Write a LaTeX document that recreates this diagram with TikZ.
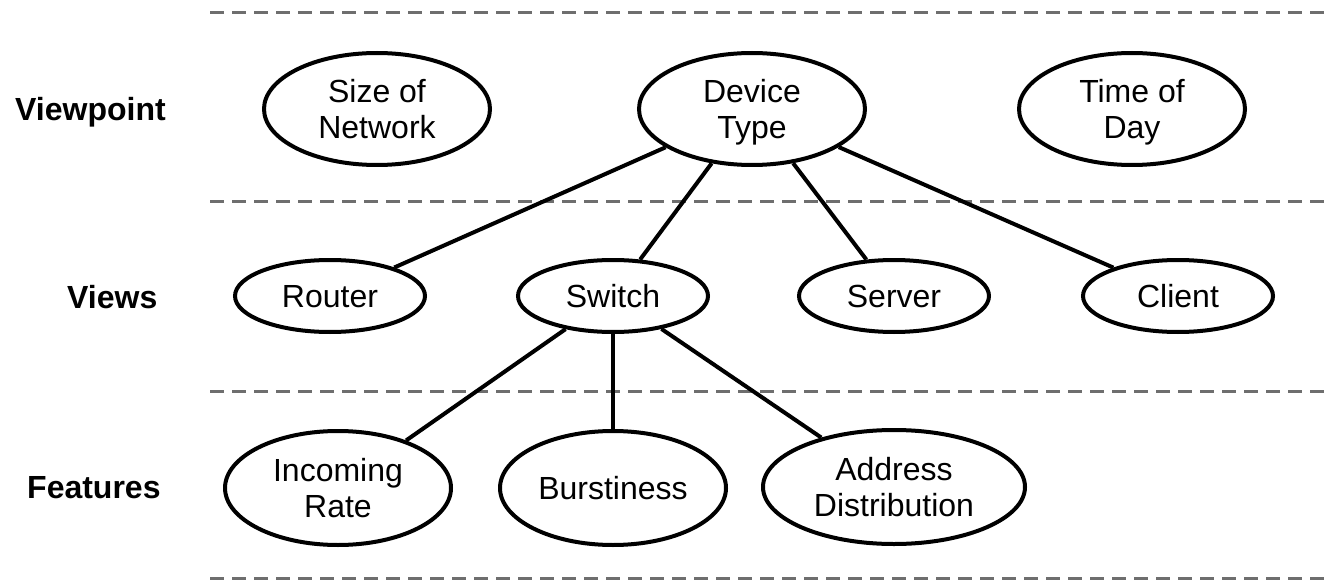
\documentclass[tikz,border=0pt]{standalone}
\usepackage{fontspec}
\setmainfont{Liberation Sans}
\usetikzlibrary{shapes.geometric}
\definecolor{rulegray}{HTML}{6E6E6E}
\begin{document}
\begin{tikzpicture}[x=1pt,y=-1pt,
  oval/.style={ellipse,draw,line width=4pt,inner sep=0pt,align=center,
    text depth=0pt,font=\fontsize{32}{36}\selectfont},
  topoval/.style={oval,minimum width=226pt,minimum height=112pt},
  viewoval/.style={oval,minimum width=190pt,minimum height=72pt},
  featoval/.style={oval,minimum width=226pt,minimum height=114pt},
  level/.style={anchor=west,inner sep=0pt,text depth=0pt,
    font=\fontsize{32}{36}\selectfont\bfseries},
  divider/.style={draw=rulegray,line width=3pt,dash pattern=on 14pt off 8pt},
  link/.style={draw,line width=4pt}]
\useasboundingbox (0,0) rectangle (1330,580);

% layer dividers
\foreach \yy in {13,202,391,578}
  \draw[divider] (210,\yy) -- (1330,\yy);

% layer names
\node[level] (lviewpoint) at (15,109) {Viewpoint};
\node[level] (lviews) at (67,297) {Views};
\node[level] (lfeatures) at (27,487) {Features};

% viewpoints
\node[topoval] (size) at (377,109) {Size of\\Network};
\node[topoval] (device) at (752,109) {Device\\Type};
\node[topoval] (time) at (1132,109) {Time of\\Day};

% views
\node[viewoval] (router) at (330,296) {Router};
\node[viewoval] (switch) at (613,296) {Switch};
\node[viewoval] (server) at (894,296) {Server};
\node[viewoval] (client) at (1178,296) {Client};

% features
\node[featoval] (incoming) at (338,488) {Incoming\\Rate};
\node[featoval] (burst) at (613,488) {Burstiness};
\node[featoval,minimum width=262pt] (address) at (894,487) {Address\\Distribution};

% connections
\foreach \v in {router,switch,server,client}
  \draw[link] (device) -- (\v);
\foreach \f in {incoming,burst,address}
  \draw[link] (switch) -- (\f);
\end{tikzpicture}
\end{document}
